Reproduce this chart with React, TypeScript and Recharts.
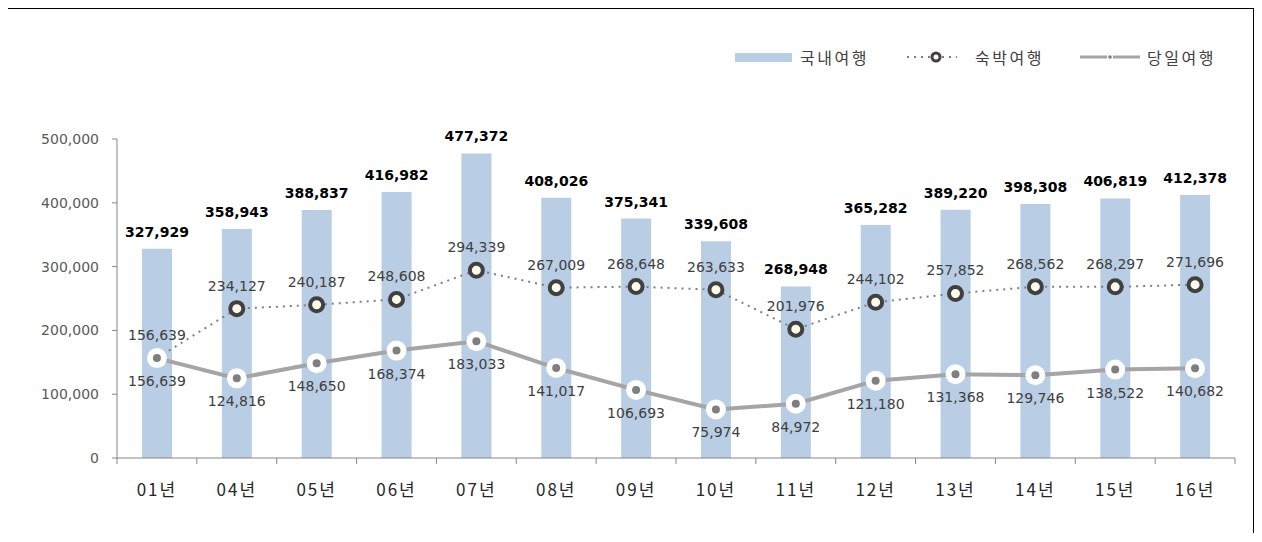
import React from 'react';
import {
  ComposedChart, Bar, Line, XAxis, YAxis, LabelList
} from 'recharts';

const years = ['01년', '04년', '05년', '06년', '07년', '08년', '09년', '10년', '11년', '12년', '13년', '14년', '15년', '16년'];
const domestic = [327929, 358943, 388837, 416982, 477372, 408026, 375341, 339608, 268948, 365282, 389220, 398308, 406819, 412378];
const overnight = [156639, 234127, 240187, 248608, 294339, 267009, 268648, 263633, 201976, 244102, 257852, 268562, 268297, 271696];
const dayTrip = [156639, 124816, 148650, 168374, 183033, 141017, 106693, 75974, 84972, 121180, 131368, 129746, 138522, 140682];
const yTicks = [0, 100000, 200000, 300000, 400000, 500000];

const data = years.map((year, i) => ({
  year,
  domestic: domestic[i],
  overnight: overnight[i],
  dayTrip: dayTrip[i],
}));

const CHART_W = 1245;
const CHART_H = 524;
const MARGIN = { top: 130, right: 18, left: 0, bottom: 0 };
const Y_W = 109;
const BAND = (CHART_W - MARGIN.left - MARGIN.right - Y_W) / years.length;

const NUM_FONT = 'DejaVu Sans, sans-serif';
const KR_FONT = '"Noto Sans CJK KR", sans-serif';
const fmt = (v: any) => Number(v).toLocaleString('en-US');

const XTick = (props: any) => {
  const { x, y, payload, index } = props;
  const last = index === years.length - 1;
  return (
    <g>
      <line x1={x - BAND / 2} x2={x - BAND / 2} y1={y} y2={y + 6} stroke="#868686" />
      {last && <line x1={x + BAND / 2} x2={x + BAND / 2} y1={y} y2={y + 6} stroke="#868686" />}
      <text x={x} y={y + 38} textAnchor="middle" fontSize={17} fill="#262626"
        fontFamily={KR_FONT} letterSpacing={2}>
        {payload.value}
      </text>
    </g>
  );
};

const OvernightDot = (props: any) => {
  const { cx, cy } = props;
  if (cx == null || cy == null) return null;
  return <circle cx={cx} cy={cy} r={6.5} fill="#fffbea" stroke="#404040" strokeWidth={4} />;
};

const DayTripDot = (props: any) => {
  const { cx, cy } = props;
  if (cx == null || cy == null) return null;
  return (
    <g>
      <circle cx={cx} cy={cy} r={10} fill="#ffffff" />
      <circle cx={cx} cy={cy} r={4} fill="#7f7f7f" />
    </g>
  );
};

const legendText: React.CSSProperties = {
  position: 'absolute', top: 37, fontFamily: KR_FONT, fontSize: 16,
  color: '#404040', letterSpacing: 2.5, lineHeight: '22px', whiteSpace: 'nowrap',
};

const Legend = () => (
  <>
    <div style={{ position: 'absolute', left: 727, top: 44, width: 57, height: 9, background: '#b9cde5' }} />
    <span style={{ ...legendText, left: 792 }}>국내여행</span>
    <svg width={54} height={16} style={{ position: 'absolute', left: 897, top: 40 }}>
      <line x1={2} x2={52} y1={8} y2={8} stroke="#7f7f7f" strokeWidth={2} strokeDasharray="2 5" />
      <circle cx={31} cy={8} r={4} fill="#fffbea" stroke="#404040" strokeWidth={3} />
    </svg>
    <span style={{ ...legendText, left: 967 }}>숙박여행</span>
    <svg width={62} height={16} style={{ position: 'absolute', left: 1072, top: 40 }}>
      <line x1={0} x2={60} y1={8} y2={8} stroke="#a5a5a5" strokeWidth={3} />
      <circle cx={30} cy={8} r={3} fill="#ffffff" />
      <circle cx={30} cy={8} r={1.8} fill="#7f7f7f" />
    </svg>
    <span style={{ ...legendText, left: 1139 }}>당일여행</span>
  </>
);

export default function App() {
  return (
    <div style={{
      position: 'relative', width: CHART_W, height: CHART_H, marginLeft: -1,
      borderTop: '1px solid #000', borderLeft: '1px solid #000', borderRight: '1px solid #000',
    }}>
      <Legend />
      <ComposedChart width={CHART_W} height={CHART_H} data={data} margin={MARGIN}>
        <XAxis dataKey="year" stroke="#868686" tickLine={false} tickSize={0} tickMargin={0}
          height={75} tick={<XTick />} interval={0} />
        <YAxis width={Y_W} domain={[0, 500000]} ticks={yTicks} stroke="#868686"
          tickSize={5} tickMargin={13} tickFormatter={fmt}
          tick={{ fontSize: 14, fill: '#595959', fontFamily: NUM_FONT }} />
        <Bar dataKey="domestic" barSize={30} fill="#b9cde5" isAnimationActive={false}>
          <LabelList dataKey="domestic" position="top" offset={12} formatter={fmt}
            style={{ fontSize: 14, fontWeight: 'bold', fill: '#000', fontFamily: NUM_FONT }} />
        </Bar>
        <Line dataKey="overnight" type="linear" stroke="#7f7f7f" strokeWidth={2}
          strokeDasharray="2 5" dot={<OvernightDot />} activeDot={false} isAnimationActive={false}>
          <LabelList dataKey="overnight" position="top" offset={18} formatter={fmt}
            style={{ fontSize: 14, fill: '#404040', fontFamily: NUM_FONT }} />
        </Line>
        <Line dataKey="dayTrip" type="linear" stroke="#a5a5a5" strokeWidth={4}
          dot={<DayTripDot />} activeDot={false} isAnimationActive={false}>
          <LabelList dataKey="dayTrip" position="bottom" offset={18} formatter={fmt}
            style={{ fontSize: 14, fill: '#404040', fontFamily: NUM_FONT }} />
        </Line>
      </ComposedChart>
    </div>
  );
}
